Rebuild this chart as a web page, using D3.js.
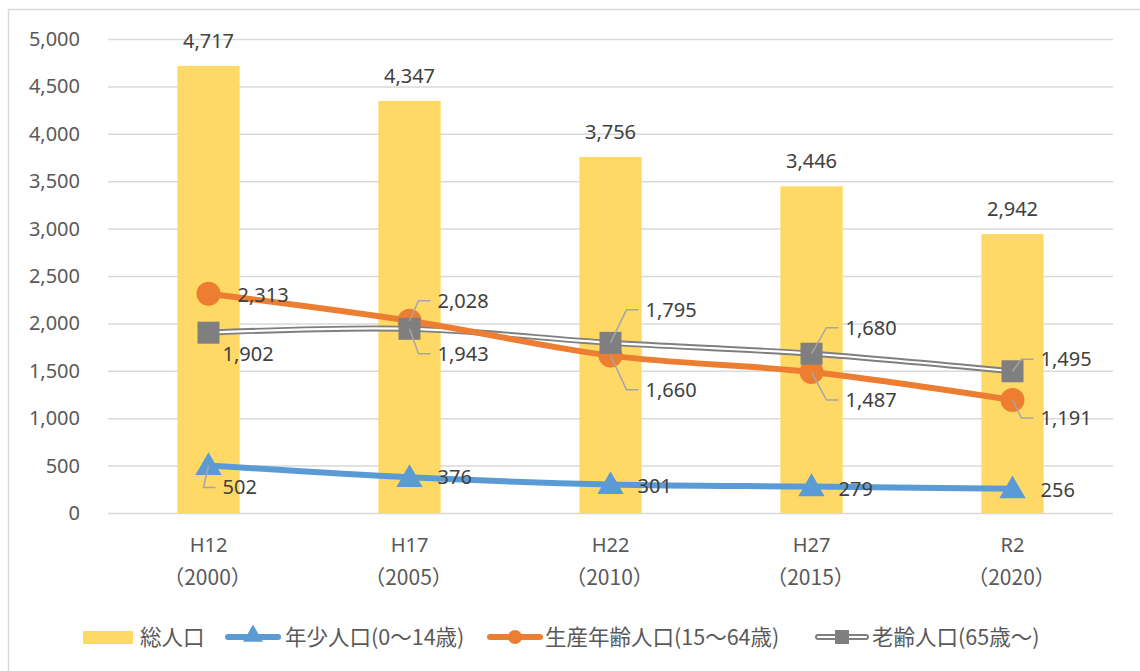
<!DOCTYPE html>
<html>
<head>
<meta charset="utf-8">
<script src="https://cdn.jsdelivr.net/npm/d3@7"></script>
<style>
  html, body { margin: 0; padding: 0; background: #fff; }
  svg { display: block; }
  text { font-family: "Noto Sans CJK JP", "Noto Sans", sans-serif; fill: #595959; }
</style>
</head>
<body>
<svg id="chart" width="1140" height="671"></svg>
<script>
// Population by age group, census years
const categories = ["H12", "H17", "H22", "H27", "R2"];
const yearLabels = ["（2000）", "（2005）", "（2010）", "（2015）", "（2020）"];
const totalPop = [4717, 4347, 3756, 3446, 2942];
const youthPop = [502, 376, 301, 279, 256];
const workingPop = [2313, 2028, 1660, 1487, 1191];
const elderlyPop = [1902, 1943, 1795, 1680, 1495];
const yTicks = [0, 500, 1000, 1500, 2000, 2500, 3000, 3500, 4000, 4500, 5000];
const seriesNames = ["総人口", "年少人口(0～14歳)", "生産年齢人口(15～64歳)", "老齢人口(65歳～)"];

// Label placement: [dx from point to label start, dy from point to label middle, leader line?]
const youthLabelPos = [[14, 22, true], [28, 0, false], [27, 2, false], [27, 2, false], [28, 1, false]];
const workingLabelPos = [[29, 1, false], [28, -20, true], [35, 34, true], [34, 28, true], [28, 18, true]];
const elderlyLabelPos = [[14, 21, false], [28, 25, true], [35, -33, true], [34, -26, true], [28, -12, true]];

const svg = d3.select("#chart");
const fmt = d3.format(",");
const textColor = "#404040";
const numFont = "'Noto Sans', sans-serif";

// Chart frame
svg.append("path")
  .attr("d", "M8.5,671 V9.5 H1140")
  .attr("fill", "none").attr("stroke", "#d9d9d9").attr("stroke-width", 1.5);

const x = d3.scaleBand().domain(categories).range([108, 1113]).paddingInner(0).paddingOuter(0);
const y = d3.scaleLinear().domain([0, 5000]).range([513, 39]);
const cx = c => x(c) + x.bandwidth() / 2;

// Horizontal gridlines
svg.append("g").selectAll("line").data(yTicks).join("line")
  .attr("x1", 108).attr("x2", 1113)
  .attr("y1", d => y(d) + 0.5).attr("y2", d => y(d) + 0.5)
  .attr("stroke", "#d9d9d9").attr("stroke-width", 1.5);

// Y axis labels
const yAxis = d3.axisLeft(y).tickValues(yTicks).tickFormat(fmt).tickSize(0).tickPadding(28);
const yg = svg.append("g").attr("transform", "translate(108,0)").call(yAxis);
yg.select(".domain").remove();
yg.selectAll("text").attr("font-size", 20).style("fill", "#595959").style("font-family", numFont);

// X axis labels (two lines)
const xg = svg.append("g");
categories.forEach((c, i) => {
  xg.append("text").attr("x", cx(c)).attr("y", 552).attr("text-anchor", "middle")
    .attr("font-size", 20).style("fill", "#595959").style("font-family", numFont).text(c);
  xg.append("text").attr("x", cx(c) - 1).attr("y", 585).attr("text-anchor", "middle")
    .attr("font-size", 21).style("fill", "#595959").text(yearLabels[i]);
});

// Total population bars
const barW = x.bandwidth() * 0.31;
svg.append("g").selectAll("rect").data(totalPop).join("rect")
  .attr("x", (d, i) => cx(categories[i]) - barW / 2)
  .attr("width", barW)
  .attr("y", d => y(d))
  .attr("height", d => y(0) - y(d))
  .attr("fill", "#ffd966");

svg.append("g").selectAll("text").data(totalPop).join("text")
  .attr("x", (d, i) => cx(categories[i]))
  .attr("y", d => y(d) - 18)
  .attr("text-anchor", "middle").attr("font-size", 20)
  .style("fill", textColor).style("font-family", numFont)
  .text(d => fmt(d));

const line = d3.line().x((d, i) => cx(categories[i])).y(d => y(d)).curve(d3.curveCatmullRom.alpha(0.5));

// Elderly: double (compound) grey line
svg.append("path").datum(elderlyPop).attr("d", line)
  .attr("fill", "none").attr("stroke", "#7f7f7f").attr("stroke-width", 6);
svg.append("path").datum(elderlyPop).attr("d", line)
  .attr("fill", "none").attr("stroke", "#ffffff").attr("stroke-width", 2.2);

// Working-age: thick orange line
svg.append("path").datum(workingPop).attr("d", line)
  .attr("fill", "none").attr("stroke", "#ed7d31").attr("stroke-width", 6);

// Youth: thick blue line
svg.append("path").datum(youthPop).attr("d", line)
  .attr("fill", "none").attr("stroke", "#5b9bd5").attr("stroke-width", 6);

// Markers
svg.append("g").selectAll("circle").data(workingPop).join("circle")
  .attr("cx", (d, i) => cx(categories[i])).attr("cy", d => y(d)).attr("r", 12)
  .attr("fill", "#ed7d31");
svg.append("g").selectAll("rect").data(elderlyPop).join("rect")
  .attr("x", (d, i) => cx(categories[i]) - 11).attr("y", d => y(d) - 11)
  .attr("width", 22).attr("height", 22).attr("fill", "#7f7f7f");
const tri = d3.symbol().type(d3.symbolTriangle).size(300);
svg.append("g").selectAll("path").data(youthPop).join("path")
  .attr("transform", (d, i) => `translate(${cx(categories[i])},${y(d) + 2})`)
  .attr("d", tri).attr("fill", "#5b9bd5");

// Data labels with optional leader lines
function drawLabels(values, pos) {
  const g = svg.append("g");
  values.forEach((v, i) => {
    const px = cx(categories[i]), py = y(v);
    const [dx, dy, leader] = pos[i];
    const lx = px + dx, ly = py + dy;
    if (leader) {
      g.append("polyline")
        .attr("points", `${px},${py} ${lx - 19},${ly} ${lx - 7},${ly}`)
        .attr("fill", "none").attr("stroke", "#a6a6a6").attr("stroke-width", 1.5);
    }
    g.append("text").attr("x", lx).attr("y", ly).attr("dy", "0.35em")
      .attr("font-size", 20).style("fill", textColor).style("font-family", numFont)
      .text(fmt(v));
  });
}
drawLabels(elderlyPop, elderlyLabelPos);
drawLabels(workingPop, workingLabelPos);
drawLabels(youthPop, youthLabelPos);

// Legend
const lg = svg.append("g");
const ly0 = 637;
const lgFont = 21.5;
lg.append("rect").attr("x", 83).attr("y", ly0 - 6).attr("width", 50).attr("height", 13).attr("fill", "#ffd966");
lg.append("text").attr("x", 140).attr("y", ly0).attr("dy", "0.35em").attr("font-size", lgFont).text(seriesNames[0]);

lg.append("line").attr("x1", 228).attr("x2", 278).attr("y1", ly0).attr("y2", ly0)
  .attr("stroke", "#5b9bd5").attr("stroke-width", 6).attr("stroke-linecap", "round");
lg.append("path").attr("transform", `translate(253,${ly0 - 1})`)
  .attr("d", d3.symbol().type(d3.symbolTriangle).size(170)).attr("fill", "#5b9bd5");
lg.append("text").attr("x", 285).attr("y", ly0).attr("dy", "0.35em").attr("font-size", lgFont).text(seriesNames[1]);

lg.append("line").attr("x1", 490).attr("x2", 540).attr("y1", ly0).attr("y2", ly0)
  .attr("stroke", "#ed7d31").attr("stroke-width", 6).attr("stroke-linecap", "round");
lg.append("circle").attr("cx", 515).attr("cy", ly0).attr("r", 7).attr("fill", "#ed7d31");
lg.append("text").attr("x", 545).attr("y", ly0).attr("dy", "0.35em").attr("font-size", lgFont).text(seriesNames[2]);

lg.append("line").attr("x1", 818).attr("x2", 866).attr("y1", ly0).attr("y2", ly0)
  .attr("stroke", "#7f7f7f").attr("stroke-width", 6).attr("stroke-linecap", "round");
lg.append("line").attr("x1", 818).attr("x2", 866).attr("y1", ly0).attr("y2", ly0)
  .attr("stroke", "#ffffff").attr("stroke-width", 2.2).attr("stroke-linecap", "round");
lg.append("rect").attr("x", 835).attr("y", ly0 - 7).attr("width", 14).attr("height", 14).attr("fill", "#7f7f7f");
lg.append("text").attr("x", 872).attr("y", ly0).attr("dy", "0.35em").attr("font-size", lgFont).text(seriesNames[3]);
</script>
</body>
</html>
